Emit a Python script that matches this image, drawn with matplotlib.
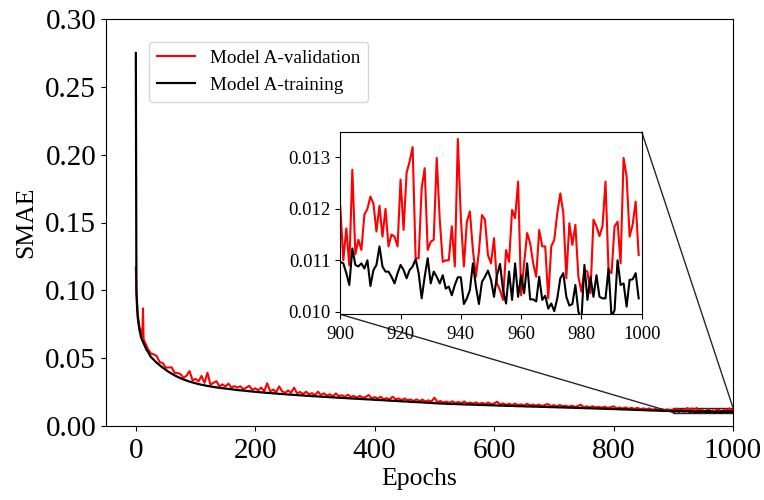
import matplotlib
matplotlib.use("Agg")
import matplotlib.pyplot as plt
from mpl_toolkits.axes_grid1.inset_locator import mark_inset

plt.rcParams['font.family'] = ['Liberation Serif', 'DejaVu Serif']

# ---------------- data ----------------
epochs_main = list(range(0, 21)) + list(range(25, 900, 5))

train_main = [
    0.275, 0.098, 0.088, 0.081, 0.077, 0.074, 0.071, 0.069, 0.067, 0.065, 0.064,
    0.063, 0.062, 0.061, 0.060, 0.059, 0.058, 0.057, 0.056, 0.0555, 0.055,
    0.0510, 0.0488, 0.0466, 0.0448, 0.0430, 0.0414, 0.0399, 0.0386, 0.0373, 0.0362,
    0.0352, 0.0343, 0.0335, 0.0327, 0.0321, 0.0315, 0.0309, 0.0304, 0.0300, 0.0295,
    0.0292, 0.0288, 0.0285, 0.0281, 0.0279, 0.0276, 0.0273, 0.0271, 0.0268, 0.0265,
    0.0263, 0.0261, 0.0259, 0.0256, 0.0254, 0.0252, 0.0250, 0.0248, 0.0246, 0.0244,
    0.0243, 0.0241, 0.0239, 0.0237, 0.0236, 0.0234, 0.0232, 0.0231, 0.0229, 0.0228,
    0.0226, 0.0225, 0.0223, 0.0222, 0.0220, 0.0219, 0.0218, 0.0216, 0.0215, 0.0214,
    0.0212, 0.0211, 0.0210, 0.0208, 0.0207, 0.0206, 0.0205, 0.0203, 0.0202, 0.0201,
    0.0200, 0.0198, 0.0197, 0.0196, 0.0195, 0.0193, 0.0192, 0.0191, 0.0190, 0.0188,
    0.0187, 0.0186, 0.0185, 0.0183, 0.0182, 0.0181, 0.0180, 0.0178, 0.0177, 0.0176,
    0.0175, 0.0174, 0.0172, 0.0171, 0.0170, 0.0168, 0.0167, 0.0166, 0.0165, 0.0164,
    0.0163, 0.0162, 0.0162, 0.0161, 0.0160, 0.0159, 0.0158, 0.0158, 0.0157, 0.0156,
    0.0155, 0.0155, 0.0154, 0.0153, 0.0153, 0.0152, 0.0151, 0.0150, 0.0150, 0.0149,
    0.0148, 0.0148, 0.0147, 0.0146, 0.0146, 0.0145, 0.0144, 0.0144, 0.0143, 0.0143,
    0.0142, 0.0141, 0.0141, 0.0140, 0.0139, 0.0139, 0.0138, 0.0137, 0.0137, 0.0136,
    0.0135, 0.0135, 0.0134, 0.0133, 0.0133, 0.0132, 0.0131, 0.0131, 0.0130, 0.0129,
    0.0128, 0.0128, 0.0127, 0.0126, 0.0125, 0.0125, 0.0124, 0.0123, 0.0122, 0.0122,
    0.0121, 0.0120, 0.0119, 0.0118, 0.0118, 0.0117, 0.0116, 0.0115, 0.0114, 0.0114,
    0.0113, 0.0112, 0.0111, 0.0111, 0.0110,
]

val_main = [
    0.117, 0.100, 0.093, 0.084, 0.079, 0.077, 0.073, 0.072, 0.071, 0.070, 0.068,
    0.066, 0.0867, 0.064, 0.063, 0.062, 0.061, 0.060, 0.059, 0.058, 0.057,
    0.0535, 0.0528, 0.0515, 0.0470, 0.0465, 0.0430, 0.0432, 0.0432, 0.0392, 0.0390,
    0.0382, 0.0355, 0.0371, 0.0405, 0.0336, 0.0347, 0.0329, 0.0369, 0.0318, 0.0393,
    0.0304, 0.0318, 0.0330, 0.0291, 0.0307, 0.0291, 0.0313, 0.0283, 0.0294, 0.0283,
    0.0293, 0.0271, 0.0283, 0.0296, 0.0266, 0.0278, 0.0264, 0.0283, 0.0256, 0.0315,
    0.0255, 0.0269, 0.0249, 0.0292, 0.0256, 0.0244, 0.0262, 0.0245, 0.0283, 0.0240,
    0.0251, 0.0235, 0.0253, 0.0234, 0.0242, 0.0227, 0.0253, 0.0228, 0.0241, 0.0224,
    0.0234, 0.0219, 0.0240, 0.0220, 0.0227, 0.0215, 0.0231, 0.0214, 0.0222, 0.0209,
    0.0222, 0.0208, 0.0215, 0.0228, 0.0203, 0.0213, 0.0202, 0.0215, 0.0198, 0.0206,
    0.0195, 0.0216, 0.0197, 0.0203, 0.0190, 0.0203, 0.0190, 0.0196, 0.0184, 0.0196,
    0.0184, 0.0194, 0.0180, 0.0189, 0.0180, 0.0209, 0.0176, 0.0184, 0.0172, 0.0180,
    0.0171, 0.0182, 0.0169, 0.0177, 0.0169, 0.0181, 0.0165, 0.0173, 0.0165, 0.0174,
    0.0162, 0.0171, 0.0162, 0.0173, 0.0160, 0.0166, 0.0179, 0.0158, 0.0166, 0.0156,
    0.0164, 0.0155, 0.0165, 0.0154, 0.0160, 0.0151, 0.0164, 0.0152, 0.0158, 0.0150,
    0.0158, 0.0147, 0.0155, 0.0162, 0.0146, 0.0154, 0.0144, 0.0155, 0.0145, 0.0149,
    0.0141, 0.0150, 0.0141, 0.0146, 0.0157, 0.0139, 0.0145, 0.0137, 0.0146, 0.0136,
    0.0142, 0.0134, 0.0143, 0.0133, 0.0138, 0.0145, 0.0130, 0.0137, 0.0129, 0.0137,
    0.0127, 0.0134, 0.0126, 0.0134, 0.0124, 0.0130, 0.0123, 0.0130, 0.0120, 0.0126,
    0.0119, 0.0126, 0.0118, 0.0123, 0.0118,
]

epochs_zoom = list(range(900, 1000))

val_zoom = [
    0.01205, 0.01100, 0.01162, 0.01090, 0.01276, 0.01112, 0.01140, 0.01120, 0.01189, 0.01200,
    0.01224, 0.01210, 0.01156, 0.01206, 0.01146, 0.01200, 0.01127, 0.01150, 0.01146, 0.01127,
    0.01257, 0.01159, 0.01270, 0.01292, 0.01320, 0.01104, 0.01104, 0.01240, 0.01279, 0.01120,
    0.01136, 0.01140, 0.01299, 0.01179, 0.01097, 0.01100, 0.01100, 0.01166, 0.01088, 0.01336,
    0.01182, 0.01088, 0.01175, 0.01195, 0.01120, 0.01068, 0.01117, 0.01188, 0.01179, 0.01110,
    0.01094, 0.01143, 0.01055, 0.01042, 0.01023, 0.01120, 0.01097, 0.01198, 0.01182, 0.01253,
    0.01032, 0.01094, 0.01153, 0.01133, 0.01094, 0.01068, 0.01159, 0.01127, 0.01127, 0.01026,
    0.01127, 0.01140, 0.01192, 0.01230, 0.01192, 0.01065, 0.01172, 0.01130, 0.01169, 0.01068,
    0.01039, 0.01081, 0.01078, 0.01036, 0.01179, 0.01166, 0.01147, 0.01166, 0.01253, 0.01081,
    0.01075, 0.01166, 0.01175, 0.01094, 0.01299, 0.01263, 0.01146, 0.01169, 0.01214, 0.01110,
]

train_zoom = [
    0.01097, 0.01094, 0.01075, 0.01052, 0.01123, 0.01091, 0.01088, 0.01094, 0.01084, 0.01100,
    0.01050, 0.01081, 0.01091, 0.01127, 0.01088, 0.01078, 0.01078, 0.01068, 0.01055, 0.01075,
    0.01091, 0.01081, 0.01065, 0.01081, 0.01088, 0.01102, 0.01075, 0.01026, 0.01068, 0.01104,
    0.01055, 0.01078, 0.01068, 0.01055, 0.01071, 0.01045, 0.01049, 0.01032, 0.01052, 0.01067,
    0.01067, 0.01015, 0.01026, 0.01042, 0.01094, 0.01049, 0.01015, 0.01058, 0.01068, 0.01080,
    0.01062, 0.01029, 0.01071, 0.01093, 0.01042, 0.01016, 0.01078, 0.01023, 0.01094, 0.01029,
    0.01071, 0.01036, 0.01094, 0.01024, 0.01024, 0.01020, 0.01068, 0.01023, 0.01031, 0.01006,
    0.01016, 0.01001, 0.01026, 0.01065, 0.01075, 0.01029, 0.01012, 0.01015, 0.01052, 0.01000,
    0.00984, 0.01091, 0.01023, 0.01068, 0.01029, 0.01071, 0.01029, 0.01026, 0.01026, 0.01084,
    0.00990, 0.01003, 0.01100, 0.01052, 0.01055, 0.01010, 0.01062, 0.01063, 0.01075, 0.01026,
]

x_ticks_main = [0, 200, 400, 600, 800, 1000]
y_ticks_main = [0.00, 0.05, 0.10, 0.15, 0.20, 0.25, 0.30]
x_ticks_zoom = [900, 920, 940, 960, 980, 1000]
y_ticks_zoom = [0.010, 0.011, 0.012, 0.013]

epochs_all = epochs_main + epochs_zoom
val_all = val_main + val_zoom
train_all = train_main + train_zoom

# ---------------- figure ----------------
fig = plt.figure(figsize=(7.64, 5.0), dpi=100)
ax = fig.add_axes([0.1387, 0.148, 0.8207, 0.814])

ax.plot(epochs_all, val_all, color='red', lw=1.5, label='Model A-validation')
ax.plot(epochs_all, train_all, color='black', lw=1.6, label='Model A-training')

ax.set_xlim(-50, 1000)
ax.set_ylim(0, 0.30)
ax.set_xticks(x_ticks_main)
ax.set_yticks(y_ticks_main)
ax.set_yticklabels([f"{v:.2f}" for v in y_ticks_main])
ax.tick_params(labelsize=21)
ax.tick_params(axis='x', pad=5)
ax.set_xlabel('Epochs', fontsize=18.5, labelpad=3)
ax.set_ylabel('SMAE', fontsize=18.5, labelpad=6)

ax.legend(loc='upper left', bbox_to_anchor=(0.0686, 0.944), borderaxespad=0,
          fontsize=13.8)

# inset
axins = fig.add_axes([0.4454, 0.3714, 0.3945, 0.3652])
axins.plot(epochs_zoom, val_zoom, color='red', lw=1.5)
axins.plot(epochs_zoom, train_zoom, color='black', lw=1.5)
axins.set_xlim(900, 1000)
axins.set_ylim(0.00995, 0.0135)
axins.set_xticks(x_ticks_zoom)
axins.set_yticks(y_ticks_zoom)
axins.set_yticklabels([f"{v:.3f}" for v in y_ticks_zoom])
axins.tick_params(labelsize=13.5)
axins.tick_params(axis='x', pad=5)

mark_inset(ax, axins, loc1=1, loc2=3, fc='none', ec='0.15', lw=1.0)

fig.savefig('out.png', dpi=100)
